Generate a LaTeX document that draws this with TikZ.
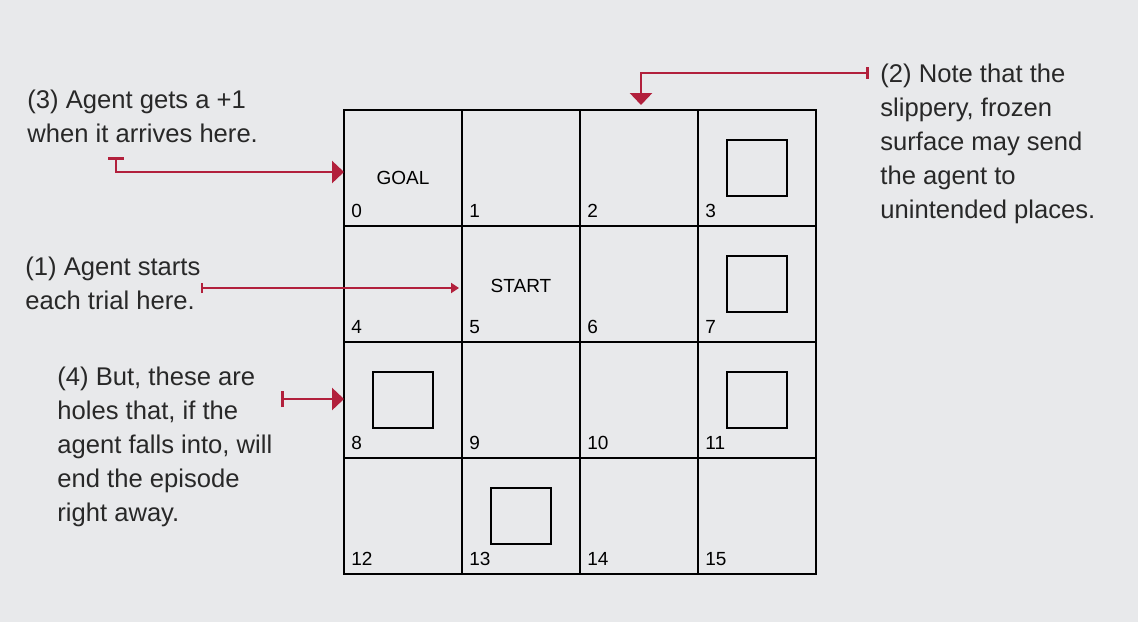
\documentclass[tikz,border=0pt]{standalone}
\usepackage{fontspec}
\setmainfont{Liberation Sans}
\usetikzlibrary{arrows.meta}

\definecolor{paper}{RGB}{232,233,235}
\definecolor{notered}{RGB}{178,32,60}
\definecolor{ink}{RGB}{40,40,40}

\tikzset{
  cell/.style={draw=black, line width=1.4pt, minimum width=59pt, minimum height=58pt,
    inner sep=0pt, outer sep=0pt},
  hole/.style={draw=black, line width=1.1pt, minimum width=30pt, minimum height=28pt,
    inner sep=0pt},
  cellnum/.style={anchor=south west, inner sep=0pt, xshift=3.5pt, yshift=4pt,
    font=\fontsize{9.5}{11}\selectfont},
  celltext/.style={inner sep=0pt, font=\fontsize{9.5}{11}\selectfont},
  % multi-line notes are placed by the baseline of their last line
  note/.style={anchor=base west, align=left, inner sep=0pt, text=ink,
    font=\fontsize{12.8}{17}\selectfont},
  callout/.style={draw=notered, line width=1.4pt},
}

\begin{document}
\begin{tikzpicture}[x=0.5pt, y=-0.5pt]
  % page
  \fill[paper] (0,0) rectangle (1138,622);
  \useasboundingbox (0,0) rectangle (1138,622);

  % the 4x4 lake
  \foreach \n in {0,...,15} {
    \pgfmathtruncatemacro{\col}{mod(\n,4)}
    \pgfmathtruncatemacro{\row}{\n/4}
    \node[cell] (c\n) at ({403+118*\col},{168+116*\row}) {};
    \node[cellnum] (n\n) at (c\n.south west) {\n};
  }

  % holes
  \foreach \n in {3,7,8,11,13}
    \node[hole] (h\n) at (c\n) {};

  \node[celltext] (goal) at ([yshift=-5pt]c0.center) {GOAL};
  \node[celltext] (start) at ([yshift=-1pt]c5.center) {START};

  % notes
  \node[note] (note3) at (27,142) {(3) Agent gets a +1\\when it arrives here.};
  \node[note] (note1) at (25,309) {(1) Agent starts\\each trial here.};
  \node[note] (note4) at (57,521) {(4) But, these are\\holes that, if the\\agent falls into, will\\end the episode\\right away.};
  \node[note] (note2) at (880,218) {(2) Note that the\\slippery, frozen\\surface may send\\the agent to\\unintended places.};

  % callouts
  \coordinate (goalfrom) at (116,157);
  \coordinate (startfrom) at (201,288);
  \coordinate (holefrom) at (281,399);
  \coordinate (slipfrom) at (869,73);

  \draw[callout, {Bar[width=8pt]}-{Triangle[length=6pt,width=11pt]}]
    (goalfrom) |- ([yshift=-2pt]c0.west);
  \draw[callout, line width=1pt, {Bar[width=5pt]}-{Triangle[length=4pt,width=5pt]}, shorten >=1.5pt]
    (startfrom) -- ([yshift=-2pt]c5.west);
  \draw[callout, {Bar[width=8pt]}-{Triangle[length=6pt,width=11pt]}]
    (holefrom) -- ([yshift=0.5pt]c8.west);
  \draw[callout, {Bar[width=6pt]}-{Triangle[length=6pt,width=11pt]}, shorten >=2.5pt]
    (slipfrom) -| ([xshift=1pt]c2.north);
\end{tikzpicture}
\end{document}
